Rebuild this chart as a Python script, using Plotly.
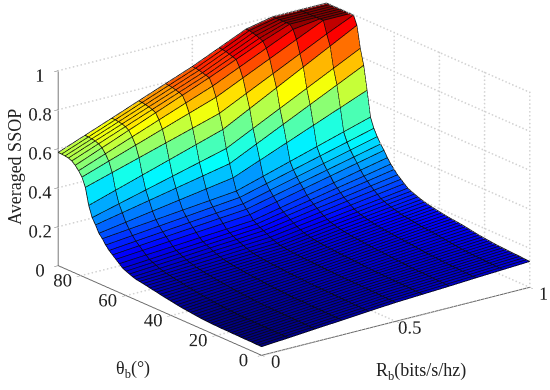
import numpy as np
import plotly.graph_objects as go

rate = [0.0, 0.1, 0.2, 0.3, 0.4, 0.5, 0.6, 0.7, 0.8, 0.9, 1.0]
theta = [90.0, 88.5, 87.0, 85.5, 84.0, 82.5, 81.0, 79.5, 78.0, 76.5, 75.0, 73.5, 72.0, 70.5, 69.0, 67.5,
         66.0, 64.5, 63.0, 61.5, 60.0, 58.5, 57.0, 55.5, 54.0, 52.5, 51.0, 49.5, 48.0, 46.5, 45.0, 43.5,
         42.0, 40.5, 39.0, 37.5, 36.0, 34.5, 33.0, 31.5, 30.0, 28.5, 27.0, 25.5, 24.0, 22.5, 21.0, 19.5,
         18.0, 16.5, 15.0, 13.5, 12.0, 10.5, 9.0, 7.5, 6.0, 4.5, 3.0, 1.5, 0.0]
ssop = [
 [.578,.631,.684,.738,.791,.844,.905,.966,.995,.995,.995],
 [.577,.630,.683,.737,.790,.843,.904,.966,.995,.995,.995],
 [.575,.628,.681,.734,.787,.840,.901,.962,.995,.995,.995],
 [.572,.625,.677,.730,.782,.835,.896,.957,.995,.995,.995],
 [.565,.618,.671,.724,.777,.830,.890,.950,.995,.995,.995],
 [.550,.605,.660,.715,.770,.825,.884,.943,.995,.995,.995],
 [.530,.582,.634,.686,.738,.790,.852,.914,.976,.995,.995],
 [.505,.552,.599,.646,.693,.740,.804,.868,.932,.995,.995],
 [.460,.501,.542,.583,.624,.665,.732,.799,.866,.933,.995],
 [.375,.418,.461,.504,.547,.590,.662,.734,.806,.878,.950],
 [.320,.356,.392,.428,.464,.500,.568,.636,.704,.772,.840],
 [.290,.318,.346,.374,.402,.430,.496,.562,.628,.694,.760],
 [.255,.277,.299,.321,.343,.365,.420,.475,.530,.585,.640],
 [.235,.249,.263,.277,.291,.305,.346,.387,.428,.469,.510],
 [.210,.224,.238,.252,.266,.280,.316,.352,.388,.424,.460],
 [.190,.203,.216,.229,.242,.255,.289,.323,.357,.391,.425],
 [.175,.187,.199,.211,.223,.235,.267,.299,.331,.363,.395],
 [.160,.171,.182,.193,.204,.215,.246,.277,.308,.339,.370],
 [.145,.155,.164,.174,.183,.193,.222,.252,.281,.311,.340],
 [.130,.140,.151,.161,.172,.182,.209,.235,.262,.288,.315],
 [.122,.132,.142,.152,.162,.172,.197,.221,.246,.270,.295],
 [.115,.125,.134,.144,.153,.163,.185,.208,.230,.253,.275],
 [.108,.117,.126,.136,.145,.154,.175,.196,.218,.239,.260],
 [.103,.111,.120,.128,.137,.145,.165,.185,.205,.225,.245],
 [.100,.107,.115,.122,.130,.137,.156,.174,.193,.211,.230],
 [.097,.104,.110,.117,.123,.130,.148,.167,.185,.204,.222],
 [.094,.100,.107,.113,.120,.126,.144,.162,.179,.197,.215],
 [.090,.097,.103,.110,.116,.123,.140,.157,.174,.191,.208],
 [.087,.094,.100,.107,.113,.120,.136,.153,.169,.186,.202],
 [.084,.091,.098,.104,.111,.118,.134,.150,.165,.181,.197],
 [.080,.087,.095,.102,.110,.117,.132,.147,.162,.177,.192],
 [.077,.085,.092,.100,.107,.115,.130,.144,.159,.173,.188],
 [.074,.082,.090,.098,.106,.114,.128,.142,.157,.171,.185],
 [.071,.079,.088,.096,.105,.113,.127,.141,.154,.168,.182],
 [.068,.077,.086,.094,.103,.112,.125,.139,.152,.166,.179],
 [.065,.074,.083,.093,.102,.111,.124,.137,.150,.163,.176],
 [.062,.072,.081,.091,.100,.110,.123,.135,.148,.160,.173],
 [.060,.070,.080,.089,.099,.109,.121,.134,.146,.159,.171],
 [.058,.068,.078,.088,.098,.108,.120,.132,.145,.157,.169],
 [.056,.066,.076,.087,.097,.107,.119,.131,.143,.155,.167],
 [.054,.064,.075,.085,.096,.106,.118,.130,.141,.153,.165],
 [.052,.063,.074,.084,.095,.106,.117,.128,.140,.151,.162],
 [.050,.061,.072,.083,.094,.105,.116,.127,.137,.148,.159],
 [.049,.060,.071,.082,.093,.104,.114,.125,.135,.146,.156],
 [.048,.059,.070,.081,.092,.103,.113,.123,.133,.143,.153],
 [.047,.058,.069,.080,.092,.103,.112,.122,.131,.141,.150],
 [.046,.057,.068,.079,.091,.102,.111,.120,.130,.139,.148],
 [.046,.057,.068,.079,.091,.102,.111,.120,.128,.137,.146],
 [.045,.056,.067,.079,.090,.101,.110,.118,.127,.135,.144],
 [.045,.056,.067,.079,.090,.101,.109,.117,.126,.134,.142],
 [.045,.056,.067,.078,.089,.100,.108,.116,.124,.132,.140],
 [.044,.055,.066,.077,.088,.099,.107,.115,.123,.131,.139],
 [.044,.055,.066,.077,.088,.099,.107,.115,.122,.130,.138],
 [.044,.055,.066,.076,.087,.098,.106,.114,.121,.129,.137],
 [.043,.054,.065,.076,.087,.098,.106,.113,.121,.128,.136],
 [.043,.054,.065,.075,.086,.097,.105,.112,.120,.127,.135],
 [.043,.054,.064,.075,.085,.096,.104,.111,.119,.126,.134],
 [.043,.054,.064,.075,.085,.096,.103,.111,.118,.126,.133],
 [.042,.053,.063,.074,.084,.095,.102,.110,.117,.125,.132],
 [.042,.053,.063,.074,.084,.095,.102,.109,.116,.124,.131],
 [.042,.052,.063,.073,.084,.094,.101,.108,.116,.123,.130],
]
rate_ticks = [0, 0.5, 1]
theta_ticks = [0, 20, 40, 60, 80]
ssop_ticks = [0, 0.2, 0.4, 0.6, 0.8, 1]


def jet(v):
    v = max(0.0, min(1.0, v))
    r = min(4 * v - 1.5, -4 * v + 4.5)
    g = min(4 * v - 0.5, -4 * v + 3.5)
    b = min(4 * v + 0.5, -4 * v + 2.5)
    c = [int(255 * max(0.0, min(1.0, q))) for q in (r, g, b)]
    return f"rgb({c[0]},{c[1]},{c[2]})"


Z = np.array(ssop)
X, Y = np.meshgrid(rate, theta)
nr, nc = Z.shape
idx = lambda a, b: a * nc + b
I, J, K, FC = [], [], [], []
zmin, zmax = Z.min(), Z.max()
for a in range(nr - 1):
    for b in range(nc - 1):
        col = jet((Z[a + 1, b] - zmin) / (zmax - zmin))
        I += [idx(a, b), idx(a, b)]
        J += [idx(a, b + 1), idx(a + 1, b + 1)]
        K += [idx(a + 1, b + 1), idx(a + 1, b)]
        FC += [col, col]

surface = go.Mesh3d(
    x=X.ravel(), y=Y.ravel(), z=Z.ravel(), i=I, j=J, k=K, facecolor=FC, flatshading=True,
    lighting=dict(ambient=1, diffuse=0, specular=0, roughness=1, fresnel=0),
    hoverinfo="skip", showscale=False,
)

lx, ly, lz = [], [], []
for a in range(nr):
    lx += list(X[a]) + [None]; ly += list(Y[a]) + [None]; lz += list(Z[a] + 0.003) + [None]
for b in range(nc):
    lx += list(X[:, b]) + [None]; ly += list(Y[:, b]) + [None]; lz += list(Z[:, b] + 0.003) + [None]
mesh = go.Scatter3d(x=lx, y=ly, z=lz, mode="lines", line=dict(color="rgb(10,10,10)", width=1.5),
                    hoverinfo="skip", showlegend=False)

# dotted grid on the two back walls and the floor, taken from the tick arrays
gx, gy, gz = [], [], []
def seg(a, b):
    n = int(abs(a[0] - b[0]) * 70 + abs(a[1] - b[1]) / 90 * 60 + abs(a[2] - b[2]) * 50) + 1
    gx.extend(np.linspace(a[0], b[0], n)); gy.extend(np.linspace(a[1], b[1], n)); gz.extend(np.linspace(a[2], b[2], n))
for t in ssop_ticks[1:]:
    seg((0, 90, t), (1, 90, t)); seg((1, 90, t), (1, 0, t))
for r in rate_ticks[1:]:
    seg((r, 90, 0), (r, 90, 1)); seg((r, 90, 0), (r, 0, 0))
for t in theta_ticks:
    seg((1, t, 0), (1, t, 1)); seg((0, t, 0), (1, t, 0))
grid = go.Scatter3d(x=gx, y=gy, z=gz, mode="markers", marker=dict(color="#d2d2d2", size=1, line=dict(width=0)),
                    hoverinfo="skip", showlegend=False)

tick_font = dict(family="Liberation Serif", size=15, color="#222")
font = dict(family="Liberation Serif", size=18, color="#222")
axis = dict(showbackground=False, showspikes=False, showline=True, linecolor="#666", linewidth=2,
            showgrid=False, zeroline=False, ticks="outside", ticklen=5, tickcolor="#666",
            tickfont=tick_font, title=dict(text=""), tickangle=0)
v = (-0.0942, 0.0370, -0.0773)
d = (-0.5696 * 2.2, -0.7509 * 2.2, 0.3345 * 2.2)
fig = go.Figure([surface, mesh, grid])
fig.update_layout(
    width=550, height=390, margin=dict(l=0, r=0, t=0, b=0), paper_bgcolor="white", showlegend=False,
    font=font,
    scene=dict(
        domain=dict(x=[0, 1], y=[0, 1]),
        aspectmode="manual", aspectratio=dict(x=1.726, y=1.726, z=1.061),
        camera=dict(projection=dict(type="orthographic"), up=dict(x=0, y=0, z=1),
                    center=dict(x=v[0], y=v[1], z=v[2]),
                    eye=dict(x=v[0] + d[0], y=v[1] + d[1], z=v[2] + d[2])),
        xaxis=dict(axis, range=[0, 1], tickvals=rate_ticks, ticktext=["0", "0.5", "1"]),
        yaxis=dict(axis, range=[0, 90], tickvals=theta_ticks),
        zaxis=dict(axis, range=[0, 1], tickvals=ssop_ticks, ticktext=["0", "0.2", "0.4", "0.6", "0.8", "1"]),
    ),
)
fig.layout.annotations = [
    dict(text="Averaged SSOP", x=15 / 550, y=1 - 167 / 390, xref="paper", yref="paper", showarrow=False,
         textangle=-90, font=font, xanchor="center", yanchor="middle"),
    dict(text="θ<sub>b</sub>(°)", x=133 / 550, y=1 - 369 / 390, xref="paper", yref="paper", showarrow=False,
         font=font, xanchor="center", yanchor="middle"),
    dict(text="R<sub>b</sub>(bits/s/hz)", x=421 / 550, y=1 - 371 / 390, xref="paper", yref="paper", showarrow=False,
         font=font, xanchor="center", yanchor="middle"),
]
fig.write_html("out.html", config={"displayModeBar": False},
               post_script="document.body.style.margin='0';")
